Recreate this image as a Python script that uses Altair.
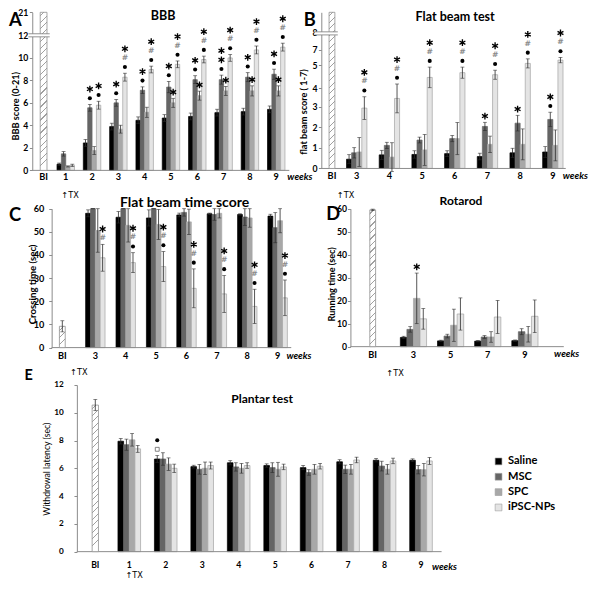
import altair as alt
import pandas as pd

KX, KY, KF = 0.97, 0.958, 0.964
def kx(v): return round(v * KX, 2)
def ky(v): return round(v * KY, 2)
def kf(v): return round(v * KF, 2)
def gx(v): return kx(v)              # reference x -> view x
def gy(v): return ky(v + 1.5)        # reference y -> view y

VIEW_W, VIEW_H = kx(601), ky(597.5)

FONT = "Lato"
SYMFONT = "DejaVu Sans"
AXIS_GRAY = "#8c8c8c"
ERR_COLOR = "#2b2b2b"
ASTER = "M0,-1L0,1M-0.87,-0.5L0.87,0.5M-0.87,0.5L0.87,-0.5"
MARK_BASE, MARK_GAP = 6.5, 9.5

series = ["Saline", "MSC", "SPC", "iPSC-NPs"]
fill_colors = ["#000000", "#656565", "#a8a8a8", "#e4e4e4"]
edge_colors = ["#000000", "#656565", "#a8a8a8", "#a3a3a3"]

# ---------------- A: BBB
a_weeks = ["1", "2", "3", "4", "5", "6", "7", "8", "9"]
a_saline = [0.55, 2.44, 3.89, 4.45, 4.65, 4.79, 5.13, 5.22, 5.42]
a_saline_err = [0.1, 0.3, 0.3, 0.3, 0.3, 0.3, 0.3, 0.3, 0.3]
a_msc = [1.47, 5.56, 6.0, 7.12, 7.4, 8.06, 8.06, 8.28, 8.54]
a_msc_err = [0.2, 0.3, 0.3, 0.3, 0.5, 0.35, 0.4, 0.4, 0.45]
a_spc = [0.35, 1.76, 3.66, 5.16, 6.0, 6.64, 7.06, 7.06, 7.06]
a_spc_err = [0.05, 0.35, 0.35, 0.45, 0.4, 0.4, 0.4, 0.45, 0.45]
a_ipsc = [0.45, 5.79, 8.28, 8.96, 9.42, 9.85, 9.99, 10.7, 10.95]
a_ipsc_err = [0.1, 0.35, 0.35, 0.3, 0.3, 0.3, 0.3, 0.35, 0.35]
a_bi, a_bi_err = 21, 0
a_marks = {
    "MSC": ["", "*•", "*•", "*•", "*•", "*•", "**•", "*•", "*•"],
    "SPC": ["", "", "", "", "*", "*", "*", "*", "*"],
    "iPSC-NPs": ["", "*•", "*#•", "*#•", "*#•", "*#•", "*#•", "*#•", "*#•"],
}

# ---------------- B: Flat beam test
b_weeks = ["3", "4", "5", "6", "7", "8", "9"]
b_saline = [0.45, 0.66, 0.68, 0.72, 0.58, 0.76, 0.8]
b_saline_err = [0.22, 0.22, 0.18, 0.14, 0.16, 0.22, 0.26]
b_msc = [0.76, 1.12, 1.38, 1.45, 2.04, 2.2, 2.38]
b_msc_err = [0.25, 0.15, 0.14, 0.15, 0.2, 0.38, 0.35]
b_spc = [0.8, 0.55, 0.9, 1.45, 1.17, 1.17, 1.12]
b_spc_err = [0.7, 0.7, 0.75, 0.78, 0.4, 0.75, 0.75]
b_ipsc = [2.93, 3.4, 4.42, 4.65, 4.55, 5.1, 5.26]
b_ipsc_err = [0.55, 0.7, 0.5, 0.27, 0.22, 0.22, 0.13]
b_bi, b_bi_err = 7.58, 0
b_marks = {
    "MSC": ["", "", "", "", "*", "*", "*•"],
    "iPSC-NPs": ["*#•", "*#•", "*#•", "*#•", "*#•", "*#•", "*#•"],
}
b_ticks = [0, 1, 2, 3, 3.9, 5, 5.77, 6.6]
b_tick_labels = ["0", "1", "2", "3", "4", "5", "7", "8"]

# ---------------- C: Flat beam time score
c_weeks = ["3", "4", "5", "6", "7", "8", "9"]
c_saline = [58.0, 56.3, 56.0, 57.3, 57.8, 57.5, 56.8]
c_saline_err = [1.5, 2.5, 3.5, 0.8, 0.3, 0.3, 0.8]
c_msc = [60, 60, 60, 58.4, 57.5, 56.4, 51.8]
c_msc_err = [0, 0, 0, 1.6, 2.5, 3.6, 6.5]
c_spc = [50.6, 52.8, 53.2, 54.3, 58.0, 56.0, 54.8]
c_spc_err = [9.4, 7.2, 6.5, 5.5, 2.0, 4.0, 5.2]
c_ipsc = [38.8, 36.7, 35.0, 25.6, 23.2, 17.8, 21.5]
c_ipsc_err = [5.8, 4.3, 6.5, 8.4, 8.0, 7.4, 7.7]
c_bi, c_bi_err = 9.2, 2.4
c_marks = {"iPSC-NPs": ["*#", "*#•", "*#•", "*#•", "*#•", "*#•", "*#•"]}

# ---------------- D: Rotarod
d_weeks = ["3", "5", "7", "9"]
d_saline = [4.0, 2.5, 2.4, 2.6]
d_saline_err = [0.5, 0.3, 0.3, 0.3]
d_msc = [7.5, 4.6, 4.2, 6.5]
d_msc_err = [1.2, 0.8, 0.6, 1.3]
d_spc = [21.0, 9.3, 4.2, 5.4]
d_spc_err = [11.0, 7.0, 2.3, 3.4]
d_ipsc = [12.1, 14.2, 12.9, 13.2]
d_ipsc_err = [4.5, 7.0, 7.2, 7.1]
d_bi, d_bi_err = 59.5, 0.3
d_marks = {"SPC": ["*", "", "", ""]}

# ---------------- E: Plantar test
e_weeks = ["1", "2", "3", "4", "5", "6", "7", "8", "9"]
e_saline = [7.95, 6.67, 6.12, 6.4, 6.2, 6.05, 6.47, 6.58, 6.58]
e_saline_err = [0.2, 0.25, 0.1, 0.15, 0.12, 0.15, 0.15, 0.12, 0.1]
e_msc = [7.7, 6.67, 5.93, 6.1, 6.05, 5.7, 5.93, 6.16, 5.9]
e_msc_err = [0.4, 0.45, 0.35, 0.3, 0.35, 0.2, 0.3, 0.35, 0.3]
e_spc = [8.05, 6.3, 6.0, 6.0, 5.93, 5.93, 5.93, 5.93, 5.9]
e_spc_err = [0.45, 0.45, 0.45, 0.35, 0.5, 0.35, 0.35, 0.35, 0.45]
e_ipsc = [7.4, 6.0, 6.2, 6.2, 6.1, 6.15, 6.6, 6.53, 6.53]
e_ipsc_err = [0.25, 0.3, 0.25, 0.2, 0.2, 0.2, 0.2, 0.2, 0.25]
e_bi, e_bi_err = 10.55, 0.4
e_marks = {"Saline": ["", "•□", "", "", "", "", "", "", ""]}


def long_df(weeks, means, errs):
    rows = []
    for si, s in enumerate(series):
        for wi, w in enumerate(weeks):
            m, e = means[si][wi], errs[si][wi]
            rows.append(dict(week=w, series=s, mean=m, lo=m - e, hi=m + e, edge=edge_colors[si]))
    return pd.DataFrame(rows)


def marker_df(weeks, means, errs, marks):
    rows = []
    for s, lst in marks.items():
        si = series.index(s)
        for wi, txt in enumerate(lst):
            hi = means[si][wi] + errs[si][wi]
            for level, ch in enumerate(reversed(txt)):
                rows.append(dict(week=weeks[wi], series=s, hi=hi, sym=ch, level=level))
    return pd.DataFrame(rows, columns=["week", "series", "hi", "sym", "level"])


def hatch(h_px, w_px, period=6.5, line=1.1, color="#a0a0a0"):
    a = w_px / h_px
    stops = [{"offset": 0, "color": "#ffffff"}]
    t = period * 0.5
    while (t + line) / h_px < 0.995:
        s, e = round(t / h_px, 5), round((t + line) / h_px, 5)
        stops += [{"offset": s, "color": "#ffffff"}, {"offset": s, "color": color},
                  {"offset": e, "color": color}, {"offset": e, "color": "#ffffff"}]
        t += period
    stops.append({"offset": 1, "color": "#ffffff"})
    return {"gradient": "linear", "x1": 0, "y1": 0, "x2": round(a, 5), "y2": 1, "stops": stops}


def yref(P, v):
    d, r = P["ydom"], P["yrng"]
    for i in range(len(d) - 1):
        if d[i] <= v <= d[i + 1]:
            return r[i] + (v - d[i]) / (d[i + 1] - d[i]) * (r[i + 1] - r[i])
    return r[-1]


dummy = pd.DataFrame({"d": [0]})


def marker_mark(sym, dy):
    if sym == "*":
        return dict(kind="point", shape=ASTER, size=round(kx(7) ** 2, 1), filled=False,
                    color="#000000", strokeWidth=1.35, yOffset=dy)
    if sym == "•":
        return dict(kind="point", shape="circle", size=round(kx(4.2) ** 2, 1), filled=True,
                    color="#000000", strokeWidth=0, yOffset=dy)
    if sym == "□":
        return dict(kind="point", shape="square", size=round(kx(4) ** 2, 1), filled=False,
                    color="#666666", strokeWidth=0.8, yOffset=dy)
    return dict(kind="text", font=SYMFONT, fontSize=kf(8), color="#8a8a8a", dy=dy,
                baseline="middle", fontWeight="bold")


legend_all = alt.Legend(orient="none", legendX=gx(500), legendY=gy(466), title=None,
                        symbolType="square", symbolSize=round(kx(7) ** 2, 1),
                        symbolStrokeColor="#9c9c9c", symbolStrokeWidth=0.6,
                        labelFont=FONT, labelFontWeight="bold", labelFontSize=kf(11.5),
                        labelColor="#000", rowPadding=ky(3.5), labelOffset=kx(4), padding=0,
                        labelLimit=200)


def build_panel(P):
    L, T = P["left"], P["top"]           # reference coordinates of the plot's top-left corner
    cats = ["BI"] + P["weeks"]
    n = len(cats)
    r0 = P["c0"] - P["bw"] / 2
    r1 = r0 + P["step"] * (n - 1) + P["bw"]
    pin = 1 - P["bw"] / P["step"]
    xs = alt.Scale(domain=cats, range=[gx(L + r0), gx(L + r1)], paddingInner=pin,
                   paddingOuter=0, round=False)
    ys = alt.Scale(domain=P["ydom"], range=[gy(T + v) for v in P["yrng"]], nice=False, zero=False)
    xo = alt.XOffset("series:N", scale=alt.Scale(domain=series, paddingInner=0, paddingOuter=0, round=False))
    df = long_df(P["weeks"], P["means"], P["errs"])
    bottom = gy(T + P["h"])

    expr = "datum.label"
    if "ylabels" in P:
        for v, t in reversed(list(zip(P["yticks"], P["ylabels"]))):
            expr = f"datum.value == {v} ? '{t}' : ({expr})"
    yaxis = alt.Axis(orient="left", offset=-gx(L), values=P["yticks"], labelExpr=expr, title=None,
                     labelFont=FONT, labelFontSize=kf(P["ylsize"]), labelFontWeight="bold",
                     labelColor="#000", labelPadding=kx(P["ylpad"]), labelOverlap=False,
                     tickSize=kx(3), tickColor=AXIS_GRAY, tickWidth=1,
                     domainColor=AXIS_GRAY, domainWidth=1, grid=False)
    xaxis = alt.Axis(orient="bottom", offset=round(-(VIEW_H - bottom), 2), title=None,
                     domain=False, ticks=False, labelAngle=0,
                     labelExpr="datum.value == 'BI' ? '' : datum.label",
                     labelFont=FONT, labelFontSize=kf(P["xlsize"]), labelFontWeight="bold",
                     labelColor="#000", labelPadding=ky(P["xlpad"]), labelBaseline="top",
                     labelOverlap=False, grid=False)
    X = alt.X("week:N", scale=xs, axis=xaxis)
    def Y(f):
        return alt.Y(f"{f}:Q", scale=ys, axis=yaxis)

    layers = []
    layers.append(alt.Chart(df).mark_bar(strokeWidth=0.7).encode(
        x=X, xOffset=xo, y=Y("mean"),
        color=alt.Color("series:N", scale=alt.Scale(domain=series, range=fill_colors), legend=legend_all),
        stroke=alt.Stroke("edge:N", scale=None)))
    layers.append(alt.Chart(dummy).mark_rule(color=AXIS_GRAY, strokeWidth=1).encode(
        x=alt.value(gx(L)), x2=alt.value(gx(L + P["w"])), y=alt.value(bottom)))
    layers.append(alt.Chart(df).mark_rule(color=ERR_COLOR, strokeWidth=0.8).encode(
        x=X, xOffset=xo, y=Y("lo"), y2="hi:Q"))
    for f in ["hi", "lo"]:
        layers.append(alt.Chart(df).mark_tick(color=ERR_COLOR, thickness=0.8, size=kx(4),
                                              orient="horizontal").encode(
            x=X, xOffset=xo, y=Y(f)))
    bi = P["bi"]
    bi_df = pd.DataFrame({"week": ["BI"], "mean": [bi], "lo": [bi - P["bi_err"]], "hi": [bi + P["bi_err"]]})
    hpx = (P["h"] - yref(P, bi)) * KY
    layers.append(alt.Chart(bi_df).mark_bar(size=kx(P["bi_w"]), xOffset=kx(P["bi_dx"]),
                                            fill=hatch(hpx, kx(P["bi_w"])), stroke="#8f8f8f",
                                            strokeWidth=0.8).encode(
        x=X, y=Y("mean")))
    if P["bi_err"] > 0:
        layers.append(alt.Chart(bi_df).mark_rule(color=ERR_COLOR, strokeWidth=0.8,
                                                 xOffset=kx(P["bi_dx"])).encode(
            x=X, y=Y("lo"), y2="hi:Q"))
        for f in ["hi", "lo"]:
            layers.append(alt.Chart(bi_df).mark_tick(color=ERR_COLOR, thickness=0.8, size=kx(4),
                                                     orient="horizontal", xOffset=kx(P["bi_dx"])).encode(
                x=X, y=Y(f)))
    layers.append(alt.Chart(bi_df).mark_text(xOffset=kx(P["bi_dx"]), baseline="top", font=FONT,
                                             fontWeight="bold", fontSize=kf(P["xlsize"]),
                                             color="#000", text="BI").encode(
        x=X, y=alt.value(round(bottom + ky(P["xlpad"]), 2))))
    for (yr, x0, x1) in P.get("breaks", []):
        layers.append(alt.Chart(dummy).mark_rule(color="white", strokeWidth=ky(3.4)).encode(
            x=alt.value(gx(x0)), x2=alt.value(gx(x1)), y=alt.value(gy(yr))))
        for dd in (-1.6, 1.6):
            layers.append(alt.Chart(dummy).mark_rule(color="#777777", strokeWidth=0.8).encode(
                x=alt.value(gx(x0)), x2=alt.value(gx(x1)), y=alt.value(gy(yr + dd))))
    mdf = marker_df(P["weeks"], P["means"], P["errs"], P["marks"])
    for (lvl, sym), g in mdf.groupby(["level", "sym"]):
        dy = round(-ky(MARK_BASE + MARK_GAP * lvl), 2)
        m = marker_mark(sym, dy)
        kind = m.pop("kind")
        if kind == "point":
            layers.append(alt.Chart(g).mark_point(opacity=1, **m).encode(
                x=X, xOffset=xo, y=Y("hi")))
        else:
            layers.append(alt.Chart(g).mark_text(**m).encode(
                x=X, xOffset=xo, y=Y("hi"), text="sym:N"))
    tx, ty = P["ytitle_pos"]
    layers.append(alt.Chart(dummy).mark_text(text=P["ytitle"], angle=270, font=FONT,
                                             fontSize=kf(P["ytsize"]), fontWeight=P["ytweight"],
                                             align="center", baseline="middle", color="#000").encode(
        x=alt.value(gx(tx)), y=alt.value(gy(ty))))
    for t in P["texts"]:
        txt, x, y, size, weight, style, align, base, font = t
        layers.append(alt.Chart(dummy).mark_text(text=txt, font=font, fontSize=kf(size), fontWeight=weight,
                                                 fontStyle=style, align=align, baseline=base,
                                                 color="#000").encode(
            x=alt.value(gx(x)), y=alt.value(gy(y))))
    return alt.layer(*layers)


PA = dict(left=25, top=3, w=265, h=165, weeks=a_weeks, means=[a_saline, a_msc, a_spc, a_ipsc],
          errs=[a_saline_err, a_msc_err, a_spc_err, a_ipsc_err], marks=a_marks,
          bi=a_bi, bi_err=a_bi_err, bi_w=7, bi_dx=4.3,
          c0=7.4, step=27.125, bw=18, ydom=[0, 12, 21], yrng=[165, 24, 0],
          yticks=[0, 2, 4, 6, 8, 10, 12, 21], ytitle="BBB score (0-21)", ytitle_pos=(8, 101),
          ytsize=9.5, ytweight="bold", ylsize=9, ylpad=1.5, xlsize=9.5, xlpad=2.5,
          breaks=[(27, 21, 43)],
          texts=[("A", 1, 17, 19, "bold", "normal", "left", "alphabetic", FONT),
                 ("BBB", 160, 7, 13, "bold", "normal", "center", "middle", FONT),
                 ("weeks", 288, 175, 10, "bold", "italic", "left", "middle", FONT),
                 ("↑TX", 64, 195, 8.5, "normal", "normal", "center", "middle", SYMFONT)])

PB = dict(left=323, top=3, w=252, h=163, weeks=b_weeks, means=[b_saline, b_msc, b_spc, b_ipsc],
          errs=[b_saline_err, b_msc_err, b_spc_err, b_ipsc_err], marks=b_marks,
          bi=b_bi, bi_err=b_bi_err, bi_w=6, bi_dx=8.2,
          c0=2.8, step=33.7, bw=21, ydom=[0, 7.58], yrng=[163, 0],
          yticks=b_ticks, ylabels=b_tick_labels, ytitle="flat beam score ( 1-7)", ytitle_pos=(305, 107),
          ytsize=9.5, ytweight="bold", ylsize=9, ylpad=1.5, xlsize=9.5, xlpad=3.5,
          breaks=[(25, 316, 340)],
          texts=[("B", 305, 17, 19, "bold", "normal", "left", "alphabetic", FONT),
                 ("Flat beam test", 461, 8, 13, "bold", "normal", "center", "middle", FONT),
                 ("weeks", 572, 174, 10, "bold", "italic", "left", "middle", FONT),
                 ("↑TX", 348, 195, 8.5, "normal", "normal", "center", "middle", SYMFONT)])

PC = dict(left=45, top=208, w=247, h=145, weeks=c_weeks, means=[c_saline, c_msc, c_spc, c_ipsc],
          errs=[c_saline_err, c_msc_err, c_spc_err, c_ipsc_err], marks=c_marks,
          bi=c_bi, bi_err=c_bi_err, bi_w=6, bi_dx=-2.7,
          c0=13.7, step=31.33, bw=20, ydom=[0, 60], yrng=[145, 0],
          yticks=[0, 10, 20, 30, 40, 50, 60], ytitle="Crossing time  (sec)", ytitle_pos=(26, 287),
          ytsize=10, ytweight="bold", ylsize=9.5, ylpad=5, xlsize=9.5, xlpad=4.5,
          texts=[("C", 1, 221, 19, "bold", "normal", "left", "alphabetic", FONT),
                 ("Flat beam  time score", 182, 202, 14.5, "bold", "normal", "center", "middle", FONT),
                 ("weeks", 287, 362, 10, "bold", "italic", "left", "middle", FONT)])

PD = dict(left=353, top=208, w=220, h=144, weeks=d_weeks, means=[d_saline, d_msc, d_spc, d_ipsc],
          errs=[d_saline_err, d_msc_err, d_spc_err, d_ipsc_err], marks=d_marks,
          bi=d_bi, bi_err=d_bi_err, bi_w=6, bi_dx=-3.7,
          c0=26.7, step=38.3, bw=27, ydom=[0, 60], yrng=[144, 0],
          yticks=[0, 10, 20, 30, 40, 50, 60], ytitle="Running time (sec)", ytitle_pos=(334, 287),
          ytsize=9.5, ytweight="bold", ylsize=9, ylpad=1, xlsize=9.5, xlpad=4.5,
          texts=[("D", 328, 220, 19, "bold", "normal", "left", "alphabetic", FONT),
                 ("Rotarod", 467, 200, 12.5, "bold", "normal", "center", "middle", FONT),
                 ("weeks", 563, 360, 10, "bold", "italic", "left", "middle", FONT),
                 ("↑TX", 399, 381, 8.5, "normal", "normal", "center", "middle", SYMFONT)])

PE = dict(left=71, top=392, w=376, h=174, weeks=e_weeks, means=[e_saline, e_msc, e_spc, e_ipsc],
          errs=[e_saline_err, e_msc_err, e_spc_err, e_ipsc_err], marks=e_marks,
          bi=e_bi, bi_err=e_bi_err, bi_w=6.5, bi_dx=2.6,
          c0=16.4, step=37.6, bw=23.3, ydom=[0, 12], yrng=[174, 0],
          yticks=[0, 2, 4, 6, 8, 10, 12], ytitle="Withdrowal latency  (sec)", ytitle_pos=(40, 480),
          ytsize=9, ytweight="normal", ylsize=8.5, ylpad=11, xlsize=9, xlpad=9.5,
          texts=[("E", 17, 387, 15, "bold", "normal", "left", "alphabetic", FONT),
                 ("Plantar test", 262, 407, 12.5, "bold", "normal", "center", "middle", FONT),
                 ("weeks", 437, 582, 10, "bold", "italic", "left", "middle", FONT),
                 ("↑TX", 73, 380, 8.5, "normal", "normal", "center", "middle", SYMFONT),
                 ("↑TX", 130, 591, 8.5, "normal", "normal", "center", "middle", SYMFONT)])

panels = [build_panel(P) for P in (PA, PB, PC, PD, PE)]

chart = alt.layer(*panels).resolve_scale(
    x="independent", y="independent", xOffset="independent"
).properties(width=VIEW_W, height=VIEW_H, padding=0).configure_view(stroke=None)

chart.save("out.html", embed_options={"renderer": "svg", "actions": False})
